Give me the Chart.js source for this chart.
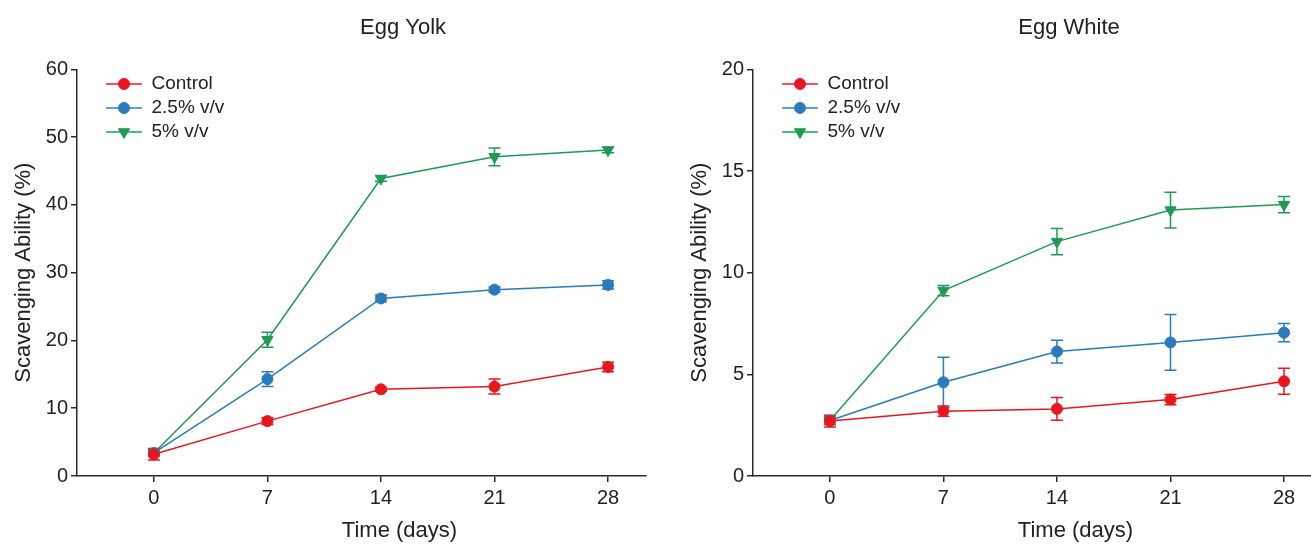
<!DOCTYPE html>
<html><head><meta charset="utf-8">
<script src="https://cdn.jsdelivr.net/npm/chart.js@4.4.1/dist/chart.umd.min.js"></script>
<style>
html,body{margin:0;padding:0;background:#fff;overflow:hidden;width:1311px;height:544px;position:relative}
canvas{position:absolute;top:0}
#c1{left:0}
#c2{left:676px}
</style></head><body>
<canvas id="c1" width="806" height="544"></canvas>
<canvas id="c2" width="786" height="544"></canvas>
<script>
// ---- data ----
const days = [0, 7, 14, 21, 28];
const dayTicks = [0, 7, 14, 21, 28];
const seriesLabels = ['Control', '2.5% v/v', '5% v/v'];

const yolkControl = [3.2, 8.1, 12.8, 13.2, 16.1];
const yolkControlErr = [0.85, 0.5, 0.3, 1.1, 0.7];
const yolk25 = [3.4, 14.3, 26.2, 27.5, 28.2];
const yolk25Err = [0.4, 1.1, 0.5, 0.4, 0.6];
const yolk5 = [3.4, 20.1, 43.9, 47.1, 48.1];
const yolk5Err = [0.4, 1.1, 0.4, 1.3, 0.4];

const whiteControl = [2.7, 3.19, 3.30, 3.76, 4.66];
const whiteControlErr = [0.29, 0.25, 0.56, 0.25, 0.64];
const white25 = [2.73, 4.61, 6.12, 6.57, 7.05];
const white25Err = [0.2, 1.23, 0.56, 1.37, 0.45];
const white5 = [2.73, 9.12, 11.53, 13.08, 13.35];
const white5Err = [0.2, 0.25, 0.65, 0.88, 0.4];

const yolkTicks = [0, 10, 20, 30, 40, 50, 60];
const whiteTicks = [0, 5, 10, 15, 20];

// ---- styles ----
const FONT = "'Liberation Sans', Arial, Helvetica, sans-serif";
Chart.defaults.font.family = FONT;
Chart.defaults.color = '#222';
const colors = ['rgb(232,22,30)', 'rgb(42,122,188)', 'rgb(30,154,86)'];
const styles = ['circle', 'circle', 'triangle'];
const rotations = [0, 0, 180];
const radii = [5.5, 5.5, 6.5];
const AXIS = '#2a2a2a';

function legendIcon(i) {
  const c = document.createElement('canvas');
  c.width = 60; c.height = 16;
  const g = c.getContext('2d');
  g.strokeStyle = colors[i]; g.lineWidth = 1.5;
  g.beginPath(); g.moveTo(24, 8); g.lineTo(60, 8); g.stroke();
  g.fillStyle = colors[i]; g.strokeStyle = colors[i]; g.lineWidth = 1;
  Chart.helpers.drawPoint(g, {pointStyle: styles[i], radius: radii[i], rotation: rotations[i], borderWidth: 1}, 42, 8);
  return c;
}

const errorBarPlugin = {
  id: 'errorBars',
  beforeDatasetsDraw(chart) {
    const {ctx, scales: {x, y}} = chart;
    ctx.save();
    chart.data.datasets.forEach((ds, di) => {
      if (!chart.isDatasetVisible(di)) return;
      ctx.strokeStyle = ds.borderColor;
      ctx.lineWidth = 1.5;
      ds.data.forEach((p, i) => {
        const e = ds.errors[i];
        const px = x.getPixelForValue(p.x);
        const yt = y.getPixelForValue(p.y + e);
        const yb = y.getPixelForValue(p.y - e);
        ctx.beginPath();
        ctx.moveTo(px, yt); ctx.lineTo(px, yb);
        ctx.moveTo(px - 6, yt); ctx.lineTo(px + 6, yt);
        ctx.moveTo(px - 6, yb); ctx.lineTo(px + 6, yb);
        ctx.stroke();
      });
    });
    ctx.restore();
  }
};

// place the legend inside the plot area, at its top-left
const legendInsidePlugin = {
  id: 'legendInside',
  afterLayout(chart) {
    const l = chart.legend;
    if (!l) return;
    l.top = chart.chartArea.top;
    l.bottom = chart.chartArea.bottom;
  }
};

const xTitlePlugin = {
  id: 'xTitle',
  afterDraw(chart, args, opts) {
    const {ctx, chartArea} = chart;
    ctx.save();
    ctx.font = opts.size + 'px ' + FONT;
    ctx.fillStyle = '#222';
    ctx.textAlign = 'center';
    ctx.textBaseline = 'middle';
    ctx.fillText(opts.text, (chartArea.left + chartArea.right) / 2 + opts.dx, chartArea.bottom + opts.dy);
    ctx.restore();
  }
};

function makeChart(id, title, series, errs, yMax, yStep, yTickVals, spacerW) {
  const datasets = series.map((vals, i) => ({
    label: seriesLabels[i],
    data: days.map((d, k) => ({x: d, y: vals[k]})),
    errors: errs[i],
    borderColor: colors[i],
    backgroundColor: colors[i],
    borderWidth: 1.5,
    pointStyle: styles[i],
    pointRotation: rotations[i],
    pointRadius: radii[i],
    pointBackgroundColor: colors[i],
    pointBorderColor: colors[i],
    pointBorderWidth: 1,
    tension: 0,
    clip: false
  }));
  return new Chart(document.getElementById(id), {
    type: 'line',
    data: {datasets},
    options: {
      responsive: false,
      animation: false,
      events: [],
      layout: {padding: 0},
      plugins: {
        title: {display: true, text: title, font: {size: 22, weight: 'normal'}, color: '#222',
                padding: {top: 15, bottom: 28}},
        legend: {
          position: 'chartArea', align: 'start',
          labels: {
            usePointStyle: true, pointStyleWidth: 60, padding: 5,
            font: {size: 19}, color: '#222',
            generateLabels: (chart) => chart.data.datasets.map((ds, i) => ({
              text: ds.label, pointStyle: legendIcon(i), fillStyle: colors[i],
              strokeStyle: colors[i], lineWidth: 0, hidden: false, datasetIndex: i, fontColor: '#222'
            }))
          }
        },
        tooltip: {enabled: false},
        xTitle: {text: 'Time (days)', size: 22, dx: 38, dy: 55}
      },
      scales: {
        x: {
          type: 'linear', min: -4.74, max: 30.34,
          afterBuildTicks: (s) => { s.ticks = dayTicks.map(v => ({value: v})); },
          afterFit: (s) => { s.height = 68; },
          grid: {display: true, drawOnChartArea: false, drawTicks: true, tickLength: 6, color: AXIS, lineWidth: 1.5},
          border: {display: true, color: AXIS, width: 1.5},
          ticks: {font: {size: 20}, color: '#222', padding: 4, maxRotation: 0, autoSkip: false}
        },
        y: {
          min: 0, max: yMax,
          afterBuildTicks: (s) => { s.ticks = yTickVals.map(v => ({value: v})); },
          afterFit: (s) => { s.width = 77; },
          grid: {display: true, drawOnChartArea: false, drawTicks: true, tickLength: 6, color: AXIS, lineWidth: 1.5},
          border: {display: true, color: AXIS, width: 1.5},
          ticks: {font: {size: 20}, color: '#222', padding: 3, stepSize: yStep},
          title: {display: true, text: 'Scavenging Ability (%)', font: {size: 22}, color: '#222', padding: {top: 11, bottom: 0}}
        },
        spacer: {
          position: 'right', display: true,
          grid: {display: false}, border: {display: false}, ticks: {display: false},
          afterFit: (s) => { s.width = spacerW; }
        }
      }
    },
    plugins: [errorBarPlugin, legendInsidePlugin, xTitlePlugin]
  });
}

makeChart('c1', 'Egg Yolk', [yolkControl, yolk25, yolk5], [yolkControlErr, yolk25Err, yolk5Err], 60, 10, yolkTicks, 160);
makeChart('c2', 'Egg White', [whiteControl, white25, white5], [whiteControlErr, white25Err, white5Err], 20, 5, whiteTicks, 140);
</script>
</body></html>
